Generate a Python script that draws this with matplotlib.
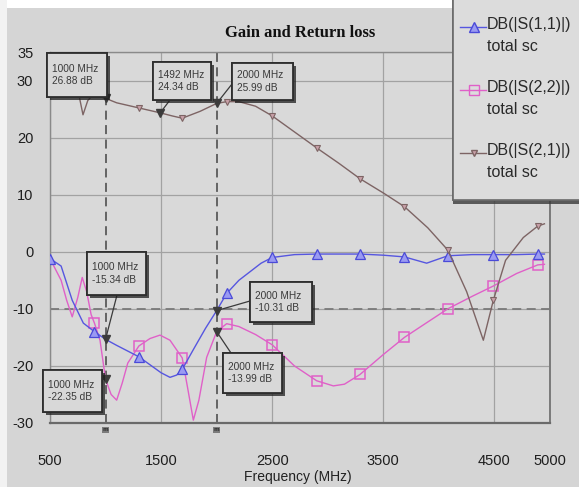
import numpy as np
import matplotlib
matplotlib.use('Agg')
import matplotlib.pyplot as plt
from matplotlib import patheffects as pe
from matplotlib.patches import Rectangle, ConnectionPatch
from matplotlib.lines import Line2D

plt.rcParams['axes.unicode_minus'] = False

# ---------------- data ----------------
s11_freq = [500, 600, 700, 800, 900, 1000, 1100, 1200, 1300, 1400, 1500, 1580, 1640, 1690,
            1800, 1900, 2000, 2090, 2200, 2300, 2400, 2500, 2700, 2900, 3100, 3290, 3500,
            3690, 3890, 4080, 4300, 4490, 4700, 4890, 4950]
s11_db = [-1.2, -2.5, -8.5, -12.5, -14.0, -15.34, -16.4, -17.4, -18.4, -19.8, -21.2, -22.0,
          -21.6, -20.6, -16.8, -13.4, -10.31, -7.3, -5.0, -3.5, -2.0, -1.0, -0.5, -0.4, -0.4,
          -0.4, -0.6, -0.9, -2.0, -0.7, -0.5, -0.5, -0.5, -0.4, -0.4]

s22_freq = [500, 600, 650, 700, 750, 790, 830, 870, 900, 950, 1000, 1050, 1100, 1150, 1200,
            1300, 1400, 1490, 1580, 1690, 1740, 1790, 1840, 1910, 2000, 2090, 2200, 2350,
            2500, 2700, 2900, 3050, 3150, 3290, 3500, 3690, 3900, 4080, 4300, 4490, 4700,
            4890, 4950]
s22_db = [-1.2, -5.0, -8.5, -11.4, -8.0, -4.5, -7.0, -11.0, -12.5, -15.5, -22.35, -25.0,
          -26.0, -23.0, -19.5, -16.5, -15.2, -14.6, -15.5, -18.6, -24.0, -29.5, -26.0, -18.5,
          -13.99, -12.6, -13.1, -14.5, -16.3, -20.0, -22.6, -23.5, -23.2, -21.5, -18.0, -15.0,
          -12.3, -10.0, -7.8, -6.0, -3.8, -2.3, -2.2]

s21_freq = [500, 600, 700, 760, 797, 840, 887, 1000, 1100, 1300, 1492, 1600, 1690, 1850, 2000,
            2090, 2200, 2350, 2500, 2700, 2900, 3100, 3290, 3500, 3690, 3900, 4080, 4250,
            4400, 4490, 4600, 4760, 4890, 4950]
s21_db = [27.8, 27.7, 27.6, 27.5, 24.0, 26.5, 27.5, 26.88, 26.1, 25.2, 24.34, 23.8, 23.4,
          24.6, 25.99, 26.3, 26.3, 25.5, 23.8, 21.0, 18.2, 15.5, 12.8, 10.3, 7.9, 4.2, 0.3,
          -7.0, -15.5, -8.5, -1.5, 2.5, 4.5, 4.9]

marker_freq = [500, 900, 1300, 1690, 2090, 2500, 2900, 3290, 3690, 4080, 4490, 4890]

series_labels = ['DB(|S(1,1)|)\ntotal sc', 'DB(|S(2,2)|)\ntotal sc', 'DB(|S(2,1)|)\ntotal sc']

ann_freq = [1000, 1492, 2000, 1000, 1000, 2000, 2000]
ann_db = [26.88, 24.34, 25.99, -15.34, -22.35, -10.31, -13.99]

xticks = [500, 1500, 2500, 3500, 4500, 5000]
yticks = [-30, -20, -10, 0, 10, 20, 30, 35]

title = 'Gain and Return loss'
xlabel = 'Frequency (MHz)'

# ---------------- layout / style ----------------
W, H = 579, 487
fig = plt.figure(figsize=(W / 100, H / 100), dpi=100)
fig.patch.set_facecolor('#d5d5d5')

ax = fig.add_axes([50 / W, 1 - 423 / H, 500 / W, 371 / H])
ax.set_facecolor('#d9d9d9')
ax.set_xlim(500, 5000)
ax.set_ylim(-30, 35)
ax.set_xticks(xticks)
ax.set_yticks(yticks)
ax.tick_params(length=0, labelsize=10.5, labelcolor='#1e1e1e')
ax.tick_params(axis='x', pad=22)
ax.tick_params(axis='y', pad=12)
for lab in ax.get_xticklabels() + ax.get_yticklabels():
    lab.set_family('Liberation Sans')
ax.grid(True, color='#a2a2a2', lw=0.9)
ax.set_axisbelow(True)
for side, sp in ax.spines.items():
    sp.set_color('#8a8a8a')
    sp.set_linewidth(1.0)
ax.spines['bottom'].set_color('#6a6a6a')
ax.spines['bottom'].set_linewidth(1.6)
ax.spines['right'].set_color('#7a7a7a')
ax.spines['right'].set_linewidth(1.4)

ax.set_xlabel(xlabel, fontsize=10, family='Liberation Sans', color='#222222')
ax.xaxis.set_label_coords(0.496, (423 - 477) / 371)
ax.xaxis.label.set_va('center')

fig.text(300 / W, 1 - 33 / H, title, family='Liberation Serif', weight='bold',
         fontsize=12, ha='center', va='center', color='#111111')

# marker lines
dash = (0, (5, 3))
ax.axvline(1000, color='#5a5a5a', lw=1.3, ls=dash, zorder=2)
ax.axvline(2000, color='#5a5a5a', lw=1.3, ls=dash, zorder=2)
ax.axhline(-10, color='#7a7a7a', lw=1.3, ls=dash, zorder=2)


def mk_idx(freqs, start=0):
    return [i for i, f in enumerate(freqs) if f in marker_freq and f >= start]


c11, c22, c21 = '#5656e0', '#e060c8', '#7d6464'
ax.plot(s22_freq, s22_db, color=c22, lw=1.0, marker='s', ms=7.5, mfc='none', mec=c22,
        mew=1.1, markevery=mk_idx(s22_freq, 900), zorder=3)
ax.plot(s11_freq, s11_db, color=c11, lw=1.0, marker='^', ms=6.5, mfc='#9a9af2', mec='#4a4ad8',
        mew=0.9, markevery=mk_idx(s11_freq), zorder=4)
ax.plot(s21_freq, s21_db, color=c21, lw=1.0, marker='v', ms=5, mfc='#c8a0a8', mec=c21,
        mew=0.8, markevery=mk_idx(s21_freq, 1300), zorder=4)

# annotation markers
ax.plot(ann_freq, ann_db, ls='none', marker='v', ms=5.5, color='#3c3c3c', zorder=7)

# small marker tags at the bottom
for f in [1000, 2000]:
    ax.annotate('m', xy=(f, -30), xytext=(0, -5), textcoords='offset points',
                ha='center', va='center', fontsize=4, color='#333333', weight='bold',
                annotation_clip=False,
                bbox=dict(boxstyle='square,pad=0.1', fc='#555555', ec='none', alpha=0.7))

# annotation boxes (layout in pixels)
boxes = [(47, 53, 60, 44, None),
         (153, 62, 58, 38, (170, 100)),
         (232, 63, 61, 37, (232, 84)),
         (87, 252, 59, 43, (117, 295)),
         (43, 370, 59, 42, (102, 379)),
         (250, 282, 62, 40, (250, 301)),
         (223, 353, 59, 40, (231, 353))]

for (l, t, w, h, conn), f, db in zip(boxes, ann_freq, ann_db):
    rect = Rectangle((l / W, 1 - (t + h) / H), w / W, h / H, transform=fig.transFigure,
                     fc='#d8d8d8', ec='#2e2e2e', lw=1.3, zorder=10)
    rect.set_path_effects([pe.withSimplePatchShadow(offset=(2, -2), shadow_rgbFace='#1e1e1e',
                                                    alpha=0.75), pe.Normal()])
    fig.add_artist(rect)
    txt = f'{f} MHz\n{db:.2f} dB'
    fig.text((l + 5) / W, 1 - (t + h / 2) / H, txt, ha='left', va='center', fontsize=7.3,
             family='Liberation Sans', color='#3a3a3a', linespacing=1.3, zorder=11)
    if conn is not None:
        cp = ConnectionPatch(xyA=(conn[0], H - conn[1]), coordsA='figure pixels',
                             xyB=(f, db), coordsB=ax.transData, color='#3a3a3a', lw=0.9,
                             zorder=9)
        fig.add_artist(cp)

# white margins
fig.add_artist(Rectangle((0, 1 - 8 / H), 453 / W, 8 / H, transform=fig.transFigure,
                         fc='white', ec='none', zorder=1))
fig.add_artist(Rectangle((0, 0), 7 / W, 1, transform=fig.transFigure,
                         fc='#f2f2f2', ec='none', zorder=1))

# legend box
leg = Rectangle((453 / W, 1 - 200 / H), 130 / W, 202 / H, transform=fig.transFigure,
                fc='#dcdcdc', ec='#6a6a6a', lw=1.2, zorder=12)
leg.set_path_effects([pe.withSimplePatchShadow(offset=(0, -3), shadow_rgbFace='#3a3a3a',
                                               alpha=0.8), pe.Normal()])
fig.add_artist(leg)
leg_rows = [27, 90, 153]
leg_styles = [dict(color=c11, marker='^', ms=6.5, mfc='#9a9af2', mec='#4a4ad8'),
              dict(color=c22, marker='s', ms=7, mfc='none', mec=c22),
              dict(color=c21, marker='v', ms=5, mfc='#c8a0a8', mec=c21)]
for row, lab, st in zip(leg_rows, series_labels, leg_styles):
    yl = 1 - row / H
    fig.add_artist(Line2D([460 / W, 486 / W], [yl, yl], transform=fig.transFigure, lw=1.0,
                          color=st['color'], zorder=13))
    fig.add_artist(Line2D([474 / W], [yl], transform=fig.transFigure, ls='none',
                          marker=st['marker'], ms=st['ms'], mfc=st['mfc'], mec=st['mec'],
                          zorder=13))
    fig.text(487 / W, 1 - (row - 10) / H, lab, ha='left', va='top', fontsize=11.5,
             family='Liberation Sans', color='#2a2a2a', linespacing=1.55, zorder=14)

fig.savefig('out.png', dpi=100, facecolor=fig.get_facecolor())
